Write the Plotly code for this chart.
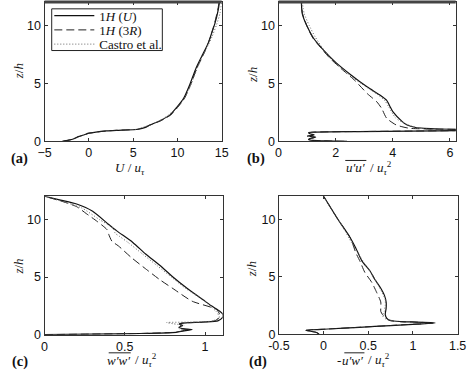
import plotly.graph_objects as go

# ---------------- data ----------------
# panel (a): U/u_tau vs z/h
a_solid_z = [0, 0.1, 0.2, 0.4, 0.57, 0.7, 0.8, 0.9, 0.95, 1.04, 1.2, 1.4, 1.8, 2.3, 2.9, 3.7, 4.9, 6.3, 7.4, 8.5, 9.4, 10.2, 11.3, 12]
a_solid_x = [-3.0, -2.3, -1.75, -1.2, -0.5, 0.0, 0.8, 2.0, 3.1, 5.6, 6.4, 6.9, 8.1, 9.2, 9.9, 10.7, 11.4, 12.1, 12.8, 13.5, 13.9, 14.25, 14.6, 14.75]
a_dash_z = [0, 0.1, 0.2, 0.4, 0.57, 0.7, 0.8, 0.9, 0.95, 1.04, 1.2, 1.4, 1.8, 2.3, 2.9, 3.7, 4.9, 6.3, 7.4, 8.5, 9.4, 10.2, 11.3, 12]
a_dash_x = [-2.9, -2.25, -1.7, -1.15, -0.45, 0.05, 0.9, 2.1, 3.2, 5.5, 6.3, 6.9, 8.2, 9.3, 10.0, 10.8, 11.5, 12.2, 12.9, 13.5, 13.9, 14.2, 14.55, 14.7]
a_castro_z = [1.0, 1.5, 2.0, 3.0, 4.0, 5.0, 6.0, 7.0, 8.0, 9.0, 10.0, 11.0, 12.0]
a_castro_x = [5.2, 7.2, 8.5, 10.1, 11.0, 11.6, 12.1, 12.6, 13.3, 13.9, 14.4, 14.8, 15.0]

# panel (b): u'u'/u_tau^2
b_solid_z = [0, 0.03, 0.08, 0.15, 0.25, 0.35, 0.45, 0.55, 0.65, 0.75, 0.8, 0.84, 0.88, 0.93, 0.98, 1.02, 1.06, 1.12, 1.19, 1.4, 1.7, 2.55, 3.0, 3.54, 3.97, 4.67, 5.67, 6.8, 7.9, 8.9, 9.9, 11.0, 12]
b_solid_x = [2.4, 1.7, 1.2, 1.05, 1.1, 1.3, 1.05, 1.25, 1.1, 1.05, 1.3, 2.8, 4.6, 6.6, 7.5, 6.6, 5.6, 5.1, 4.8, 4.5, 4.33, 4.0, 3.9, 3.78, 3.56, 3.11, 2.56, 2.0, 1.56, 1.22, 1.0, 0.83, 0.8]
b_dash_z = [0, 0.03, 0.08, 0.15, 0.25, 0.35, 0.45, 0.55, 0.65, 0.75, 0.8, 0.84, 0.88, 0.93, 0.98, 1.02, 1.06, 1.13, 1.42, 2.0, 2.83, 3.4, 4.1, 5.24, 6.2, 7.2, 8.0, 8.9, 9.9, 11.0, 12]
b_dash_x = [2.3, 1.6, 1.15, 1.05, 1.15, 1.25, 1.0, 1.2, 1.1, 1.05, 1.3, 2.7, 4.5, 6.5, 7.4, 6.5, 5.4, 4.56, 4.11, 3.78, 3.61, 3.44, 3.11, 2.67, 2.22, 1.78, 1.5, 1.2, 1.0, 0.84, 0.8]
b_castro_z = [1.0, 1.2, 1.5, 2.0, 3.0, 3.5, 4.0, 5.0, 6.0, 7.0, 8.0, 9.0, 10.0, 11.0, 12.0]
b_castro_x = [5.4, 4.8, 4.45, 4.1, 3.85, 3.72, 3.48, 2.88, 2.32, 1.86, 1.55, 1.28, 1.07, 0.9, 0.83]

# panel (c): w'w'/u_tau^2
c_solid_z = [0, 0.05, 0.1, 0.2, 0.3, 0.4, 0.45, 0.5, 0.65, 0.8, 0.93, 1.0, 1.04, 1.1, 1.2, 1.5, 1.8, 2.06, 2.5, 3, 4, 5, 6, 7, 8, 9, 9.55, 10.7, 11.33, 11.67, 12]
c_solid_x = [0.0, 0.3, 0.6, 0.82, 0.86, 0.9, 0.92, 0.87, 0.84, 0.86, 0.84, 0.86, 0.9, 1.0, 1.08, 1.11, 1.11, 1.09, 1.04, 0.99, 0.89, 0.80, 0.72, 0.63, 0.55, 0.45, 0.4, 0.3, 0.2, 0.1, 0.0]
c_dash_z = [0, 0.05, 0.1, 0.2, 0.3, 0.4, 0.45, 0.5, 0.65, 0.8, 0.93, 1.0, 1.04, 1.1, 1.2, 1.5, 1.8, 2.2, 2.9, 4.0, 4.75, 5.6, 6.7, 7.7, 8.1, 8.7, 9.1, 9.8, 10.5, 11.1, 11.6, 12]
c_dash_x = [0.0, 0.28, 0.58, 0.8, 0.85, 0.88, 0.9, 0.86, 0.84, 0.85, 0.84, 0.86, 0.9, 0.99, 1.06, 1.09, 1.09, 1.07, 0.92, 0.80, 0.72, 0.64, 0.54, 0.46, 0.42, 0.40, 0.39, 0.33, 0.26, 0.2, 0.1, 0.0]
c_castro_z = [0.4, 0.6, 0.8, 0.95, 1.05, 1.1, 1.2, 1.5, 2.0, 2.5, 3.0, 4.0, 5.0, 6.0, 7.0, 8.0, 8.5, 8.8, 9.2, 10.0, 11.0, 12.0]
c_castro_x = [0.86, 0.83, 0.87, 0.8, 0.76, 0.95, 1.05, 1.09, 1.07, 1.03, 0.99, 0.88, 0.79, 0.70, 0.61, 0.52, 0.47, 0.44, 0.43, 0.34, 0.23, 0.0]

# panel (d): -u'w'/u_tau^2
d_solid_z = [0, 0.15, 0.34, 0.45, 0.6, 0.75, 0.88, 0.97, 1.0, 1.05, 1.1, 1.19, 1.36, 1.7, 2.26, 2.8, 3.4, 4.0, 4.8, 5.5, 6.36, 7.5, 8.5, 10.0, 12]
d_solid_x = [-0.05, -0.08, -0.2, 0.05, 0.4, 0.75, 1.05, 1.25, 1.2, 1.04, 0.86, 0.75, 0.71, 0.69, 0.70, 0.70, 0.68, 0.64, 0.57, 0.52, 0.43, 0.36, 0.29, 0.16, 0.0]
d_dash_z = [0, 0.15, 0.34, 0.45, 0.6, 0.75, 0.88, 0.97, 1.0, 1.05, 1.1, 1.19, 1.4, 1.7, 1.98, 2.26, 2.8, 3.7, 4.5, 5.4, 6.3, 7.1, 8.0, 8.5, 10.0, 12]
d_dash_x = [-0.05, -0.08, -0.19, 0.05, 0.4, 0.74, 1.03, 1.23, 1.18, 1.02, 0.85, 0.74, 0.70, 0.66, 0.64, 0.64, 0.64, 0.59, 0.54, 0.46, 0.41, 0.36, 0.32, 0.29, 0.16, 0.0]
d_castro_z = [1.2, 1.3, 1.6, 2.0, 2.5, 3.0, 4.0, 5.0, 6.0, 7.0, 8.0, 9.0, 10.0, 11.0, 12.0]
d_castro_x = [0.76, 0.70, 0.66, 0.68, 0.69, 0.69, 0.63, 0.56, 0.47, 0.39, 0.31, 0.24, 0.16, 0.08, 0.0]

y_ticks = [0, 5, 10]
xa_ticks = [-5, 0, 5, 10, 15]
xb_ticks = [0, 2, 4, 6]
xc_ticks = [0, 0.5, 1]
xc_ticklabels = ["0", "0.5", "1"]
xd_ticks = [-0.5, 0, 0.5, 1, 1.5]
xd_ticklabels = ["-0.5", "0", "0.5", "1", "1.5"]

series_names = ["1<i>H</i> (<i>U</i>)", "1<i>H</i> (3<i>R</i>)", "Castro et al."]

# ---------------- figure ----------------
fig = go.Figure()

styles = [
    dict(color="#111111", width=1.2, dash="solid"),
    dict(color="#222222", width=1.0, dash="8px,4px"),
    dict(color="#666666", width=1.0, dash="1px,2px"),
]
legend_ids = ["legend", "legend2", "legend3"]

panels = [
    ("x", "y", [(a_solid_x, a_solid_z), (a_dash_x, a_dash_z), (a_castro_x, a_castro_z)]),
    ("x2", "y2", [(b_solid_x, b_solid_z), (b_dash_x, b_dash_z), (b_castro_x, b_castro_z)]),
    ("x3", "y3", [(c_solid_x, c_solid_z), (c_dash_x, c_dash_z), (c_castro_x, c_castro_z)]),
    ("x4", "y4", [(d_solid_x, d_solid_z), (d_dash_x, d_dash_z), (d_castro_x, d_castro_z)]),
]

for pi, (xa, ya, curves) in enumerate(panels):
    for si, (xs, zs) in enumerate(curves):
        fig.add_trace(go.Scatter(
            x=xs, y=zs, mode="lines", xaxis=xa, yaxis=ya,
            line=dict(shape="spline", smoothing=0.6, **styles[si]),
            name=series_names[si], showlegend=(pi == 0), legend=legend_ids[si],
        ))

W, H = 474, 377
def px_x(p):
    return p / W
def px_y(p):
    return 1 - p / H

tickfont = dict(family="Liberation Sans, Arial", size=12.5, color="#111")
axcommon = dict(showline=True, linecolor="#333", linewidth=1, mirror="ticks",
                ticks="inside", ticklen=3, tickcolor="#333", tickfont=tickfont,
                showgrid=False, zeroline=False, fixedrange=True)

dom = {
    "a": ([px_x(35), px_x(220)], [px_y(144), px_y(2)]),
    "b": ([px_x(279.3), px_x(464.3)], [px_y(144), px_y(2)]),
    "c": ([px_x(35), px_x(221)], [px_y(341), px_y(200)]),
    "d": ([px_x(279.7), px_x(466.3)], [px_y(340.5), px_y(200)]),
}

serif = "Liberation Serif, Times New Roman"
legfont = dict(family=serif, size=13, color="#111")
leg_rows = [16, 30.5, 45]
legs = {}
for lid, ry in zip(legend_ids, leg_rows):
    legs[lid] = dict(x=px_x(40), y=px_y(ry), xanchor="left", yanchor="middle",
                     borderwidth=0, bgcolor="rgba(0,0,0,0)", font=legfont,
                     itemwidth=40)

fig.update_layout(
    width=W, height=H, autosize=False,
    margin=dict(l=0, r=0, t=0, b=0),
    paper_bgcolor="white", plot_bgcolor="white",
    xaxis=dict(domain=dom["a"][0], anchor="y", range=[-5, 15], tickvals=xa_ticks, **axcommon),
    yaxis=dict(domain=dom["a"][1], anchor="x", range=[0, 12], tickvals=y_ticks, **axcommon),
    xaxis2=dict(domain=dom["b"][0], anchor="y2", range=[0, 6.2], tickvals=xb_ticks, **axcommon),
    yaxis2=dict(domain=dom["b"][1], anchor="x2", range=[0, 12], tickvals=y_ticks, **axcommon),
    xaxis3=dict(domain=dom["c"][0], anchor="y3", range=[0, 1.11], tickvals=xc_ticks, ticktext=xc_ticklabels, **axcommon),
    yaxis3=dict(domain=dom["c"][1], anchor="x3", range=[0, 12], tickvals=y_ticks, **axcommon),
    xaxis4=dict(domain=dom["d"][0], anchor="y4", range=[-0.5, 1.5], tickvals=xd_ticks, ticktext=xd_ticklabels, **axcommon),
    yaxis4=dict(domain=dom["d"][1], anchor="x4", range=[0, 12], tickvals=y_ticks, **axcommon),
    showlegend=True,
    **legs,
)

ann = []
def add_text(x, y, text, size=13, angle=0, anchor="center"):
    ann.append(dict(x=px_x(x), y=px_y(y), xref="paper", yref="paper", text=text,
                    showarrow=False, textangle=angle, xanchor=anchor, yanchor="middle",
                    font=dict(family=serif, size=size, color="#111")))

utau = "<i>u</i><sub><i>\u03c4</i></sub>"
utau2 = utau + "<sup>2</sup>"
p = "\u2032"

# axis titles
add_text(124, 172, "<i>U</i> / " + utau)
add_text(372, 171, "<i>u" + p + "u" + p + "</i>", anchor="right")
add_text(373, 171, "/ " + utau2, anchor="left")
add_text(126, 367, "<i>w" + p + "w" + p + "</i>", anchor="right")
add_text(127, 367, "/ " + utau2, anchor="left")
add_text(342, 367, "-", anchor="center")
add_text(370, 367, "<i>u" + p + "w" + p + "</i>", anchor="right")
add_text(371, 367, "/ " + utau2, anchor="left")
for (x, y) in [(8, 73), (252, 76), (8, 272), (252, 274)]:
    add_text(x, y, "<i>z</i>/<i>h</i>", angle=-90)
for (x, y, t) in [(9, 161, "(a)"), (256, 161, "(b)"), (9, 368, "(c)"), (258, 368, "(d)")]:
    add_text(x, y, "<b>" + t + "</b>", size=14.5)

fig.update_layout(annotations=ann)

# thick top frame of the upper panels
for xr, yr in [("x domain", "y domain"), ("x2 domain", "y2 domain")]:
    fig.add_shape(type="line", xref=xr, yref=yr, x0=0, x1=1, y0=1, y1=1,
                  line=dict(color="#444", width=3))

# legend frame
fig.add_shape(type="rect", xref="paper", yref="paper", layer="below",
              x0=px_x(42.5), x1=px_x(158), y0=px_y(51.5), y1=px_y(9),
              line=dict(color="#222", width=1), fillcolor="white")

# overlines of the averaged products in the axis titles
for (x0, x1, y) in [(349, 371, 163.5), (102, 125, 359.5), (348, 369, 359.5)]:
    fig.add_shape(type="line", xref="paper", yref="paper",
                  x0=px_x(x0), x1=px_x(x1), y0=px_y(y), y1=px_y(y),
                  line=dict(color="#222", width=1))

fig.write_html("out.html", config={"displayModeBar": False},
               post_script="document.body.style.margin='0px';document.body.style.padding='0px';")
